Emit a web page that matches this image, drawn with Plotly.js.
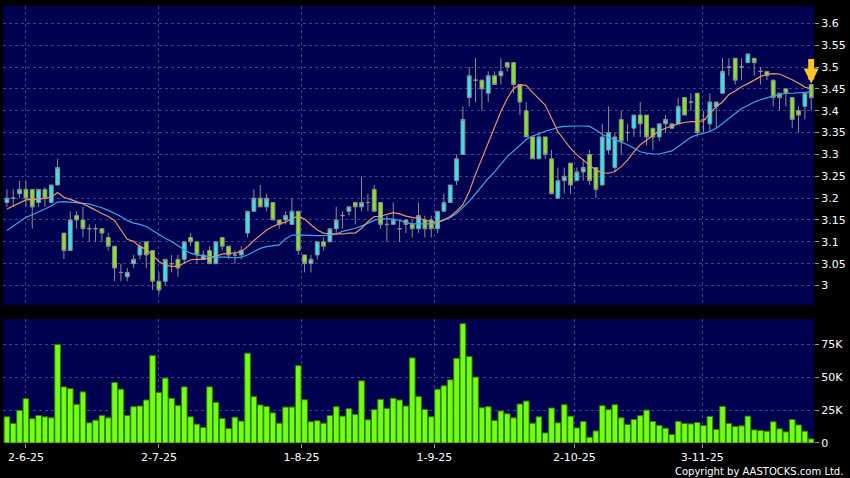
<!DOCTYPE html>
<html>
<head>
<meta charset="utf-8">
<script src="https://cdn.plot.ly/plotly-3.0.1.min.js"></script>
<style>
html,body{margin:0;padding:0;background:#000;}
#chart{width:850px;height:478px;}
</style>
</head>
<body>
<div id="chart"></div>
<script>
// ---- data (one entry per trading day) ----
const openP = [3.19,3.20,3.21,3.22,3.22,3.19,3.22,3.19,3.23,3.12,
3.08,3.16,3.15,3.13,3.13,3.13,3.11,3.09,3.03,3.02,
3.05,3.07,3.10,3.08,3.01,3.01,3.05,3.06,3.06,3.11,
3.10,3.06,3.08,3.05,3.11,3.09,3.07,3.07,3.12,3.17,
3.20,3.18,3.19,3.15,3.15,3.14,3.17,3.07,3.05,3.07,
3.10,3.10,3.13,3.16,3.17,3.19,3.18,3.19,3.22,3.19,
3.14,3.14,3.13,3.15,3.14,3.13,3.15,3.15,3.13,3.17,
3.19,3.24,3.30,3.43,3.47,3.47,3.44,3.48,3.48,3.51,
3.51,3.46,3.40,3.34,3.29,3.34,3.29,3.20,3.24,3.28,
3.24,3.26,3.30,3.27,3.23,3.31,3.27,3.38,3.35,3.36,
3.39,3.39,3.36,3.34,3.37,3.36,3.37,3.43,3.42,3.44,
3.38,3.37,3.41,3.44,3.50,3.52,3.50,3.51,3.52,3.49,
3.49,3.47,3.44,3.45,3.43,3.40,3.41,3.46];
const highP = [3.22,3.22,3.24,3.24,3.22,3.22,3.225,3.23,3.29,3.12,
3.17,3.17,3.18,3.14,3.14,3.13,3.12,3.09,3.05,3.04,
3.07,3.10,3.10,3.08,3.03,3.06,3.07,3.07,3.10,3.12,
3.10,3.08,3.09,3.10,3.11,3.09,3.08,3.09,3.17,3.22,
3.23,3.21,3.19,3.15,3.17,3.20,3.17,3.07,3.07,3.10,
3.11,3.13,3.18,3.17,3.18,3.19,3.25,3.21,3.23,3.19,
3.16,3.19,3.15,3.15,3.15,3.19,3.16,3.16,3.17,3.21,
3.23,3.30,3.41,3.50,3.52,3.47,3.49,3.49,3.52,3.51,
3.51,3.46,3.42,3.34,3.35,3.34,3.31,3.27,3.27,3.28,
3.27,3.29,3.31,3.27,3.37,3.41,3.35,3.40,3.37,3.39,
3.42,3.39,3.36,3.37,3.39,3.37,3.43,3.43,3.44,3.44,
3.40,3.44,3.42,3.52,3.52,3.52,3.52,3.53,3.52,3.50,
3.49,3.47,3.44,3.45,3.43,3.41,3.44,3.46];
const lowP = [3.18,3.18,3.20,3.18,3.13,3.18,3.18,3.19,3.23,3.06,
3.08,3.13,3.11,3.10,3.10,3.10,3.08,3.01,3.01,3.01,
3.04,3.06,3.04,2.99,2.98,3.00,3.03,3.02,3.05,3.09,
3.05,3.06,3.05,3.05,3.08,3.06,3.05,3.06,3.11,3.17,
3.18,3.17,3.15,3.13,3.14,3.14,3.07,3.03,3.03,3.06,
3.08,3.10,3.12,3.13,3.16,3.14,3.17,3.17,3.17,3.13,
3.10,3.14,3.10,3.12,3.11,3.12,3.11,3.11,3.12,3.17,
3.19,3.23,3.30,3.41,3.42,3.40,3.42,3.46,3.46,3.49,
3.44,3.39,3.34,3.29,3.29,3.29,3.21,3.20,3.21,3.21,
3.24,3.24,3.23,3.20,3.23,3.30,3.26,3.30,3.33,3.34,
3.34,3.32,3.31,3.33,3.35,3.36,3.37,3.39,3.40,3.34,
3.35,3.35,3.36,3.44,3.48,3.46,3.47,3.51,3.48,3.46,
3.47,3.41,3.40,3.41,3.36,3.35,3.38,3.40];
const closeP = [3.20,3.20,3.22,3.20,3.18,3.22,3.20,3.23,3.27,3.08,
3.15,3.15,3.13,3.13,3.13,3.12,3.09,3.04,3.03,3.03,
3.06,3.09,3.07,3.01,2.99,3.06,3.05,3.04,3.10,3.10,
3.07,3.07,3.05,3.10,3.09,3.07,3.07,3.08,3.17,3.20,
3.18,3.20,3.15,3.14,3.16,3.17,3.08,3.05,3.06,3.10,
3.09,3.13,3.15,3.16,3.18,3.18,3.19,3.19,3.17,3.14,
3.14,3.15,3.13,3.14,3.13,3.16,3.13,3.13,3.17,3.19,
3.23,3.29,3.38,3.48,3.47,3.45,3.48,3.46,3.49,3.50,
3.46,3.42,3.34,3.29,3.34,3.30,3.21,3.24,3.25,3.23,
3.26,3.27,3.24,3.22,3.34,3.35,3.34,3.33,3.35,3.39,
3.37,3.34,3.34,3.37,3.38,3.37,3.41,3.39,3.42,3.35,
3.38,3.42,3.42,3.49,3.50,3.47,3.50,3.53,3.51,3.49,
3.48,3.43,3.43,3.44,3.38,3.39,3.44,3.43];
// volume in thousands of shares
const volumeK = [20,14.9,24.9,33.8,18.5,21,20,19.2,75.1,42.8,
41.5,29.5,39,15.4,17.4,21,19.2,46.2,41,21,
27.7,28.2,32.8,66.7,38.5,49.5,34.1,28.5,42.8,20,
14.4,11.8,42.8,31,18.7,11,19.7,16.7,68.5,35.4,
29,27.9,23,15.1,27.4,27.4,59,33,16.2,17,
15.1,21,27.7,20.5,26.2,21.8,47.4,17.7,25.4,33.3,
26.4,34.1,32.8,28.2,64.9,35.4,25.6,20,41,43.6,
48.2,64.6,91,65.9,50.3,26.9,27.7,17.2,24.4,22.3,
19.2,29.7,32,15.1,20,7.7,26.7,15.4,29.2,20.5,
11.5,16.4,4.4,9.2,28.5,25.4,29.2,19.2,14.1,17.9,
20.8,25.1,16.4,13.3,11.3,6.4,16.4,14.9,14.6,15.6,
13.3,20.3,10.3,27.9,14.9,12.6,13.1,20.5,10,9.5,
9,16.2,10.8,8.5,17.9,13.8,9,3.1];
// moving averages as drawn in the reference
const ma10 = [3.175,3.182,3.19,3.196,3.197,3.197,3.20,3.202,3.213,3.202,
3.197,3.192,3.187,3.18,3.172,3.165,3.158,3.149,3.127,3.106,
3.101,3.089,3.083,3.070,3.055,3.047,3.044,3.044,3.051,3.059,
3.060,3.060,3.063,3.068,3.072,3.074,3.074,3.078,3.089,3.103,
3.116,3.127,3.135,3.141,3.145,3.154,3.158,3.152,3.139,3.127,
3.120,3.118,3.118,3.118,3.120,3.120,3.131,3.146,3.158,3.158,
3.163,3.167,3.164,3.159,3.156,3.154,3.150,3.146,3.144,3.150,
3.158,3.170,3.185,3.215,3.255,3.291,3.328,3.364,3.398,3.428,
3.451,3.459,3.458,3.442,3.428,3.413,3.383,3.352,3.333,3.314,
3.299,3.287,3.276,3.264,3.258,3.257,3.261,3.272,3.287,3.306,
3.322,3.333,3.345,3.354,3.360,3.365,3.370,3.373,3.375,3.375,
3.377,3.394,3.409,3.42,3.437,3.445,3.455,3.462,3.470,3.478,
3.484,3.485,3.484,3.478,3.471,3.463,3.454,3.450];
const ma20 = [3.126,3.136,3.146,3.156,3.162,3.168,3.175,3.182,3.191,3.192,
3.191,3.190,3.188,3.187,3.182,3.178,3.172,3.165,3.158,3.149,
3.143,3.140,3.135,3.126,3.116,3.108,3.101,3.091,3.082,3.074,
3.070,3.068,3.066,3.065,3.065,3.065,3.063,3.065,3.070,3.078,
3.085,3.089,3.091,3.093,3.107,3.115,3.116,3.116,3.115,3.114,
3.114,3.116,3.118,3.124,3.127,3.131,3.136,3.143,3.149,3.153,
3.153,3.152,3.149,3.144,3.141,3.141,3.141,3.141,3.145,3.150,
3.156,3.165,3.178,3.193,3.210,3.228,3.245,3.260,3.278,3.295,
3.308,3.322,3.334,3.342,3.348,3.353,3.357,3.362,3.364,3.365,
3.365,3.365,3.364,3.356,3.346,3.339,3.333,3.328,3.322,3.314,
3.306,3.303,3.301,3.301,3.304,3.308,3.318,3.329,3.339,3.345,
3.348,3.353,3.360,3.371,3.383,3.394,3.405,3.412,3.420,3.425,
3.430,3.434,3.437,3.440,3.440,3.441,3.442,3.443];
// axis labels
const dateTickPos = [3, 24, 46.5, 67.5, 89.6, 109.8];
const dateTickText = ['2-6-25','2-7-25','1-8-25','1-9-25','2-10-25','3-11-25'];
const priceTicks = [3,3.05,3.1,3.15,3.2,3.25,3.3,3.35,3.4,3.45,3.5,3.55,3.6];
const priceTickText = ['3','3.05','3.1','3.15','3.2','3.25','3.3','3.35','3.4','3.45','3.5','3.55','3.6'];
const volTicks = [0,25,50,75];
const volTickText = ['0','25K','50K','75K'];
const copyrightText = 'Copyright by AASTOCKS.com Ltd.';

// ---- chart ----
const idx = openP.map((_, i) => i);
const last = idx.length - 1;
const gridC = 'rgba(130,130,195,0.5)';
const tickFont = {family:'DejaVu Sans, sans-serif', size:11, color:'#ffffff'};
const xr = [-0.62, last + 0.44];

const traces = [
  {
    type:'candlestick', x:idx, open:openP, high:highP, low:lowP, close:closeP,
    xaxis:'x', yaxis:'y', whiskerwidth:0, hoverinfo:'skip',
    increasing:{fillcolor:'#33e3f2', line:{color:'#8f8f8f', width:1}},
    decreasing:{fillcolor:'#86e424', line:{color:'#8f8f8f', width:1}}
  },
  {type:'scatter', mode:'lines', x:idx, y:ma20, xaxis:'x', yaxis:'y',
   line:{color:'#3aa6ea', width:1.2}, hoverinfo:'skip'},
  {type:'scatter', mode:'lines', x:idx, y:ma10, xaxis:'x', yaxis:'y',
   line:{color:'#e8956a', width:1.2}, hoverinfo:'skip'},
  {type:'bar', x:idx, y:volumeK, xaxis:'x2', yaxis:'y2',
   marker:{color:'#72ff14', line:{color:'#2e7d00', width:1}}, hoverinfo:'skip'}
];

const layout = {
  width:850, height:478,
  paper_bgcolor:'#000000', plot_bgcolor:'#000050',
  margin:{l:3, r:36, t:6, b:35},
  showlegend:false,
  boxgap:0.14, bargap:0.1,
  xaxis:{domain:[0,1], anchor:'y', range:xr, tickvals:dateTickPos,
    showticklabels:false, ticks:'', showgrid:true, gridcolor:gridC, griddash:'3px,3px',
    zeroline:false, showline:false, rangeslider:{visible:false}, fixedrange:true},
  yaxis:{domain:[0.3163,1], anchor:'x', side:'right', range:[2.956,3.6396],
    tickvals:priceTicks, ticktext:priceTickText, ticks:'outside', ticklen:4, tickcolor:'#9a9a9a',
    tickfont:tickFont, showgrid:true, gridcolor:gridC, griddash:'3px,3px', zeroline:false, fixedrange:true},
  xaxis2:{domain:[0,1], anchor:'y2', range:xr, tickvals:dateTickPos, ticktext:dateTickText,
    ticks:'outside', ticklen:4, tickcolor:'#9a9a9a', tickfont:tickFont,
    showgrid:true, gridcolor:gridC, griddash:'3px,3px', zeroline:false, showline:false, fixedrange:true},
  yaxis2:{domain:[0,0.2836], anchor:'x2', side:'right', range:[0,94.5],
    tickvals:volTicks, ticktext:volTickText, ticks:'outside', ticklen:4, tickcolor:'#9a9a9a',
    tickfont:tickFont, showgrid:true, gridcolor:gridC, griddash:'3px,3px', zeroline:false, fixedrange:true},
  annotations:[
    {text:copyrightText, xref:'paper', yref:'paper', x:1.038, y:-0.066,
     xanchor:'right', yanchor:'middle', showarrow:false,
     font:{family:'DejaVu Sans, sans-serif', size:10, color:'#ffffff'}},
    {x:last, y:highP[last], xref:'x', yref:'y', text:'', showarrow:true,
     ax:0, ay:-27, arrowhead:2, arrowsize:0.5, arrowwidth:6, arrowcolor:'#f8c626', standoff:1}
  ]
};

Plotly.newPlot('chart', traces, layout, {staticPlot:true, displayModeBar:false});
</script>
</body>
</html>
